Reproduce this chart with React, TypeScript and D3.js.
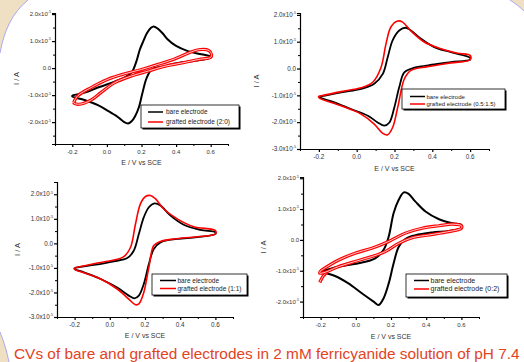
import React, { useEffect, useRef } from 'react';
import * as d3 from 'd3';

// E (V vs SCE), I (x10^-5 A)
const p1Bare: [number, number][] = [
  [-0.2, -1.01], [-0.113, -0.88], [-0.052, -0.72], [0.045, -0.5], [0.1, -0.35], [0.142, -0.17],
  [0.171, 0.26], [0.19, 0.68], [0.21, 0.99], [0.232, 1.3], [0.255, 1.49], [0.27, 1.54], [0.294, 1.46],
  [0.323, 1.28], [0.352, 1.06], [0.4, 0.82], [0.468, 0.63], [0.546, 0.51], [0.6, 0.43],
  [0.6, 0.39], [0.53, 0.29], [0.41, 0.19], [0.336, 0.07], [0.26, -0.05], [0.23, -0.36], [0.204, -0.96],
  [0.185, -1.45], [0.163, -1.78], [0.143, -1.97], [0.123, -2.05], [0.1, -2.0], [0.061, -1.8],
  [0.006, -1.58], [-0.052, -1.37], [-0.13, -1.18], [-0.2, -1.05], [-0.2, -1.01],
];
const p1Grafted: [number, number][] = [
  [-0.192, -1.27], [-0.169, -1.03], [-0.091, -0.72], [0.006, -0.41], [0.103, -0.21], [0.2, -0.05],
  [0.297, 0.14], [0.395, 0.35], [0.472, 0.56], [0.53, 0.68], [0.59, 0.65], [0.605, 0.5],
  [0.6, 0.4], [0.53, 0.32], [0.434, 0.19], [0.336, 0.07], [0.239, -0.11], [0.142, -0.29],
  [0.045, -0.54], [-0.033, -0.9], [-0.091, -1.18], [-0.149, -1.33], [-0.188, -1.31], [-0.192, -1.27],
];
const p2Bare: [number, number][] = [
  [-0.197, -1.05], [-0.082, -0.89], [0.023, -0.76], [0.093, -0.57], [0.138, -0.2], [0.164, 0.42],
  [0.19, 1.05], [0.225, 1.42], [0.26, 1.52], [0.287, 1.42], [0.34, 1.11], [0.41, 0.8], [0.498, 0.61],
  [0.6, 0.4], [0.6, 0.33], [0.498, 0.24], [0.41, 0.15], [0.305, 0.03], [0.252, -0.14], [0.225, -0.7],
  [0.199, -1.45], [0.173, -2.01], [0.146, -2.13], [0.111, -2.01], [0.059, -1.76], [-0.03, -1.51],
  [-0.118, -1.26], [-0.197, -1.07], [-0.197, -1.05],
];
const p2Grafted: [number, number][] = [
  [-0.204, -1.04], [-0.082, -0.86], [0.023, -0.72], [0.085, -0.51], [0.129, 0.05], [0.155, 0.92],
  [0.181, 1.55], [0.217, 1.77], [0.243, 1.73], [0.287, 1.4], [0.357, 0.99], [0.445, 0.74],
  [0.533, 0.57], [0.6, 0.49], [0.6, 0.33], [0.498, 0.21], [0.375, 0.07], [0.287, -0.07],
  [0.252, -0.39], [0.217, -1.45], [0.19, -2.2], [0.164, -2.47], [0.138, -2.42], [0.093, -2.07],
  [0.023, -1.7], [-0.082, -1.39], [-0.197, -1.1], [-0.204, -1.04],
];
const p3Bare: [number, number][] = [
  [-0.2, -1.0], [-0.09, -0.88], [0.023, -0.73], [0.099, -0.6], [0.136, -0.3], [0.165, 0.38],
  [0.193, 1.06], [0.222, 1.47], [0.254, 1.63], [0.288, 1.54], [0.345, 1.13], [0.42, 0.76],
  [0.515, 0.55], [0.6, 0.45], [0.6, 0.38], [0.496, 0.25], [0.383, 0.18], [0.288, 0.04], [0.25, -0.23],
  [0.222, -0.84], [0.193, -1.66], [0.165, -2.13], [0.14, -2.24], [0.108, -2.13], [0.042, -1.8],
  [-0.052, -1.45], [-0.147, -1.18], [-0.2, -1.04], [-0.2, -1.0],
];
const p3Grafted: [number, number][] = [
  [-0.2, -1.0], [-0.09, -0.83], [0.023, -0.68], [0.08, -0.54], [0.118, -0.16], [0.146, 0.79],
  [0.174, 1.61], [0.203, 1.91], [0.231, 1.95], [0.26, 1.81], [0.307, 1.4], [0.383, 1.0],
  [0.477, 0.68], [0.6, 0.52], [0.6, 0.38], [0.496, 0.27], [0.363, 0.18], [0.288, 0.08], [0.25, -0.09],
  [0.222, -0.98], [0.193, -2.0], [0.165, -2.47], [0.146, -2.5], [0.108, -2.27], [0.042, -1.86],
  [-0.052, -1.45], [-0.147, -1.2], [-0.2, -1.06], [-0.2, -1.0],
];
const p4Bare: [number, number][] = [
  [-0.2, -1.03], [-0.1, -0.87], [0.015, -0.76], [0.11, -0.6], [0.158, -0.32], [0.187, 0.11],
  [0.215, 0.87], [0.244, 1.3], [0.273, 1.54], [0.3, 1.49], [0.339, 1.24], [0.396, 0.92],
  [0.473, 0.67], [0.549, 0.54], [0.6, 0.49], [0.6, 0.38], [0.53, 0.29], [0.434, 0.24], [0.339, 0.15],
  [0.282, 0.03], [0.244, -0.22], [0.215, -0.76], [0.187, -1.41], [0.158, -1.89], [0.13, -2.11],
  [0.101, -2.0], [0.034, -1.73], [-0.042, -1.41], [-0.118, -1.17], [-0.2, -1.03],
];
const p4GraftedStart: [number, number][] = [[-0.205, -1.38], [-0.185, -1.17], [-0.16, -1.03]];
const p4Grafted: [number, number][] = [
  [-0.2, -1.0], [-0.1, -0.66], [-0.004, -0.43], [0.091, -0.27], [0.187, -0.05], [0.282, 0.22],
  [0.377, 0.38], [0.473, 0.46], [0.549, 0.51], [0.6, 0.46], [0.6, 0.38], [0.51, 0.25], [0.415, 0.16],
  [0.32, 0.07], [0.244, -0.11], [0.167, -0.38], [0.091, -0.54], [-0.004, -0.7], [-0.1, -0.87],
  [-0.175, -1.05], [-0.205, -1.08], [-0.2, -1.0],
];

const xMajorTicks = [-0.2, 0.0, 0.2, 0.4, 0.6];
const xMinorTicks = [-0.3, -0.1, 0.1, 0.3, 0.5, 0.7];
const seriesNames = ['bare electrode', 'grafted electrode'];
const ratios = ['(2:0)', '(0.5:1.5)', '(1:1)', '(0:2)'];
const xTitle = 'E / V vs SCE';
const yTitle = 'I / A';
const caption = 'CVs of bare and grafted electrodes in 2 mM ferricyanide solution of pH 7.4';

const panels = [
  { bare: p1Bare, grafted: [p1Grafted], multi: true, x0: 55, x1: 228, top: 13, bottom: 144, yDom: [-2.81, 2.04],
    yTicks: [-2, -1, 0, 1, 2], yMinor: [-2.5, -1.5, -0.5, 0.5, 1.5], tickFs: 6, yTitleX: 19, xTitleY: 165,
    leg: { x: 141, y: 105, w: 98, h: 23, r1: 112, r2: 122, lx0: 148, lx1: 163, tx: 166, fs: 6.5 } },
  { bare: p2Bare, grafted: [p2Grafted], multi: false, x0: 300, x1: 489, top: 13, bottom: 149, yDom: [-3.0, 2.07],
    yTicks: [-3, -2, -1, 0, 1, 2], yMinor: [-2.5, -1.5, -0.5, 0.5, 1.5], tickFs: 6.3, yTitleX: 259, xTitleY: 171,
    leg: { x: 402, y: 89, w: 103, h: 20, r1: 96.5, r2: 104, lx0: 410, lx1: 425, tx: 426.5, fs: 6 } },
  { bare: p3Bare, grafted: [p3Grafted], multi: false, x0: 57, x1: 233, top: 182, bottom: 317, yDom: [-3.0, 2.5],
    yTicks: [-3, -2, -1, 0, 1, 2], yMinor: [-2.5, -1.5, -0.5, 0.5, 1.5, 2.5], tickFs: 6.3, yTitleX: 20, xTitleY: 338,
    leg: { x: 152, y: 274, w: 95, h: 21, r1: 280.5, r2: 288.5, lx0: 160, lx1: 176, tx: 177.5, fs: 6.5 } },
  { bare: p4Bare, grafted: [p4GraftedStart, p4Grafted], multi: true, x0: 303, x1: 479, top: 177, bottom: 317, yDom: [-2.5, 2.04],
    yTicks: [-2, -1, 0, 1, 2], yMinor: [-2.5, -1.5, -0.5, 0.5, 1.5], tickFs: 6, yTitleX: 266, xTitleY: 339,
    leg: { x: 406, y: 274, w: 101, h: 23, r1: 280.5, r2: 289, lx0: 414, lx1: 429, tx: 430.5, fs: 7 } },
];

const FONT = '"Liberation Sans", Arial, sans-serif';

const App = () => {
  const svgRef = useRef<SVGSVGElement>(null);

  useEffect(() => {
    const svg = d3.select(svgRef.current);
    svg.selectAll('*').remove();
    const W = 524;
    const H = 362;

    // slide background
    svg.append('rect').attr('width', W).attr('height', H).attr('fill', '#efe0c3');
    svg.append('path')
      .attr('d', 'M28,0 L510,0 C516,4 520,7 524,11 L524,362 L9,362 C7,352 4,342 0,332 L0,53 C4,31 12,13 28,0 Z')
      .attr('fill', '#fff');
    ['M0,53 C4,31 12,13 28,0', 'M510,0 C516,4 520,7 524,11', 'M9,362 C7,352 4,342 0,332'].forEach(d => {
      svg.append('path').attr('d', d).attr('fill', 'none').attr('stroke', '#a9a9f2').attr('stroke-width', 1);
    });

    panels.forEach((p, i) => {
      const x = d3.scaleLinear().domain([-0.3, 0.7]).range([p.x0, p.x1]);
      const y = d3.scaleLinear().domain(p.yDom).range([p.bottom, p.top]);
      const g = svg.append('g');

      const line = d3.line<[number, number]>()
        .x(d => x(d[0]))
        .y(d => y(d[1]))
        .curve(d3.curveCatmullRom.alpha(0.5));

      // bare electrode
      g.append('path').attr('d', line(p.bare)).attr('fill', 'none')
        .attr('stroke', '#000').attr('stroke-width', p.multi ? 2 : 1.8).attr('stroke-linejoin', 'round');

      // grafted electrode
      p.grafted.forEach(arr => {
        if (p.multi) {
          g.append('path').attr('d', line(arr)).attr('fill', 'none')
            .attr('stroke', '#f00').attr('stroke-width', 3.2).attr('stroke-linejoin', 'round');
          g.append('path').attr('d', line(arr)).attr('fill', 'none')
            .attr('stroke', '#fff').attr('stroke-width', 0.8).attr('stroke-linejoin', 'round');
        } else {
          g.append('path').attr('d', line(arr)).attr('fill', 'none')
            .attr('stroke', '#f00').attr('stroke-width', 1.6).attr('stroke-linejoin', 'round');
        }
      });

      // axes
      g.append('g')
        .attr('transform', `translate(${p.x0},0)`)
        .call(d3.axisLeft(y).tickValues(p.yTicks).tickSize(3).tickFormat(() => ''))
        .call(a => a.selectAll('path,line').attr('stroke', '#000').attr('stroke-width', 1.2));
      g.append('g')
        .attr('transform', `translate(${p.x0},0)`)
        .call(d3.axisLeft(y).tickValues(p.yMinor).tickSize(2).tickSizeOuter(0).tickFormat(() => ''))
        .call(a => a.select('.domain').remove())
        .call(a => a.selectAll('line').attr('stroke', '#000').attr('stroke-width', 1));
      g.append('g')
        .attr('transform', `translate(0,${p.bottom})`)
        .call(d3.axisBottom(x).tickValues(xMajorTicks).tickSize(3).tickSizeOuter(0).tickFormat(() => ''))
        .call(a => a.selectAll('path,line').attr('stroke', '#000').attr('stroke-width', 1.2));
      g.append('g')
        .attr('transform', `translate(0,${p.bottom})`)
        .call(d3.axisBottom(x).tickValues(xMinorTicks).tickSize(2).tickSizeOuter(0).tickFormat(() => ''))
        .call(a => a.select('.domain').remove())
        .call(a => a.selectAll('line').attr('stroke', '#000').attr('stroke-width', 1));

      // y tick labels
      p.yTicks.forEach(v => {
        const t = g.append('text')
          .attr('x', p.x0 - 4)
          .attr('y', y(v) + p.tickFs * 0.35)
          .attr('text-anchor', 'end')
          .attr('font-family', FONT)
          .attr('font-size', p.tickFs)
          .attr('fill', '#333');
        if (v === 0) {
          t.text('0.0');
        } else {
          t.append('tspan').text(`${v.toFixed(1)}x10`);
          t.append('tspan').attr('dy', -p.tickFs * 0.45).attr('font-size', p.tickFs * 0.6).text('-5');
        }
      });

      // x tick labels
      xMajorTicks.forEach(v => {
        g.append('text')
          .attr('x', x(v))
          .attr('y', p.bottom + 4 + p.tickFs)
          .attr('text-anchor', 'middle')
          .attr('font-family', FONT)
          .attr('font-size', p.tickFs)
          .attr('fill', '#333')
          .text(v.toFixed(1));
      });

      // axis titles
      g.append('text')
        .attr('x', (p.x0 + p.x1) / 2)
        .attr('y', p.xTitleY)
        .attr('text-anchor', 'middle')
        .attr('font-family', FONT)
        .attr('font-size', 7)
        .attr('fill', '#333')
        .text(xTitle);
      g.append('text')
        .attr('transform', `translate(${p.yTitleX},${(p.top + p.bottom) / 2}) rotate(-90)`)
        .attr('text-anchor', 'middle')
        .attr('font-family', FONT)
        .attr('font-size', 7.5)
        .attr('fill', '#333')
        .text(yTitle);

      // legend
      const L = p.leg;
      g.append('rect').attr('x', L.x + 1.5).attr('y', L.y + 1.5).attr('width', L.w).attr('height', L.h).attr('fill', '#000');
      g.append('rect').attr('x', L.x).attr('y', L.y).attr('width', L.w).attr('height', L.h)
        .attr('fill', '#fff').attr('stroke', '#000').attr('stroke-width', 0.8);
      [L.r1, L.r2].forEach((ry, k) => {
        g.append('line').attr('x1', L.lx0).attr('x2', L.lx1).attr('y1', ry).attr('y2', ry)
          .attr('stroke', k === 0 ? '#000' : '#f00').attr('stroke-width', 1.5);
        g.append('text')
          .attr('x', L.tx)
          .attr('y', ry + L.fs * 0.35)
          .attr('font-family', FONT)
          .attr('font-size', L.fs)
          .attr('fill', '#222')
          .text(k === 0 ? seriesNames[0] : `${seriesNames[1]} ${ratios[i]}`);
      });
    });

    // caption
    svg.append('text')
      .attr('x', 14)
      .attr('y', 359)
      .attr('font-family', FONT)
      .attr('font-size', 15.4)
      .attr('fill', '#e2441f')
      .text(caption);
  }, []);

  return (
    <svg ref={svgRef} width={524} height={362}
      style={{ position: 'fixed', top: 0, left: 0, display: 'block' }} />
  );
};

export default App;
